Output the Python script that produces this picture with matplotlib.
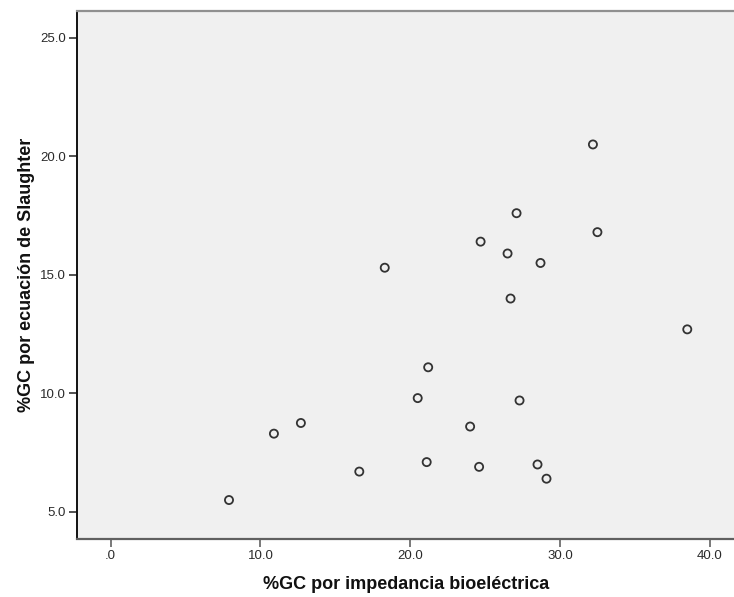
import matplotlib
matplotlib.use("Agg")
import matplotlib.pyplot as plt

# %GC by bioelectrical impedance (x) vs. Slaughter equation (y)
gc_impedancia = [7.9, 10.9, 12.7, 16.6, 18.3, 20.5, 21.1, 21.2, 24.0, 24.6, 24.7,
                 26.5, 26.7, 27.1, 27.3, 28.5, 28.7, 29.1, 32.2, 32.5, 38.5]
gc_slaughter = [5.5, 8.3, 8.75, 6.7, 15.3, 9.8, 7.1, 11.1, 8.6, 6.9, 16.4,
                15.9, 14.0, 17.6, 9.7, 7.0, 15.5, 6.4, 20.5, 16.8, 12.7]

x_ticks = [0, 10, 20, 30, 40]
x_tick_labels = [".0", "10.0", "20.0", "30.0", "40.0"]
y_ticks = [5, 10, 15, 20, 25]
y_tick_labels = ["5.0", "10.0", "15.0", "20.0", "25.0"]

plt.rcParams['font.family'] = ['Liberation Sans', 'DejaVu Sans']

fig = plt.figure(figsize=(7.34, 5.97), dpi=100)
ax = fig.add_axes([0.1053, 0.0977, 0.8947, 0.8839])
ax.set_facecolor('#f0f0f0')

ax.scatter(gc_impedancia, gc_slaughter, s=34, facecolors='none',
           edgecolors='#333333', linewidths=1.3, zorder=3)

ax.set_xlim(-2.23, 41.62)
ax.set_ylim(3.87, 26.13)

ax.set_xticks(x_ticks)
ax.set_xticklabels(x_tick_labels)
ax.set_yticks(y_ticks)
ax.set_yticklabels(y_tick_labels)
ax.tick_params(axis='both', labelsize=9.5, length=6, width=1.1, pad=2)
ax.tick_params(axis='x', colors='#555555', labelcolor='#2a2a2a')
ax.tick_params(axis='y', colors='#222222', labelcolor='#2a2a2a')

ax.spines['left'].set_color('#111111')
ax.spines['left'].set_linewidth(1.4)
ax.spines['bottom'].set_color('#606060')
ax.spines['bottom'].set_linewidth(1.6)
ax.spines['top'].set_color('#909090')
ax.spines['top'].set_linewidth(1.6)
ax.spines['right'].set_visible(False)

ax.set_xlabel("%GC por impedancia bioeléctrica", fontsize=13, fontweight='bold',
              color='#111111', labelpad=10)
ax.set_ylabel("%GC por ecuación de Slaughter", fontsize=13, fontweight='bold',
              color='#111111', labelpad=4)

fig.savefig("out.png", dpi=100)
